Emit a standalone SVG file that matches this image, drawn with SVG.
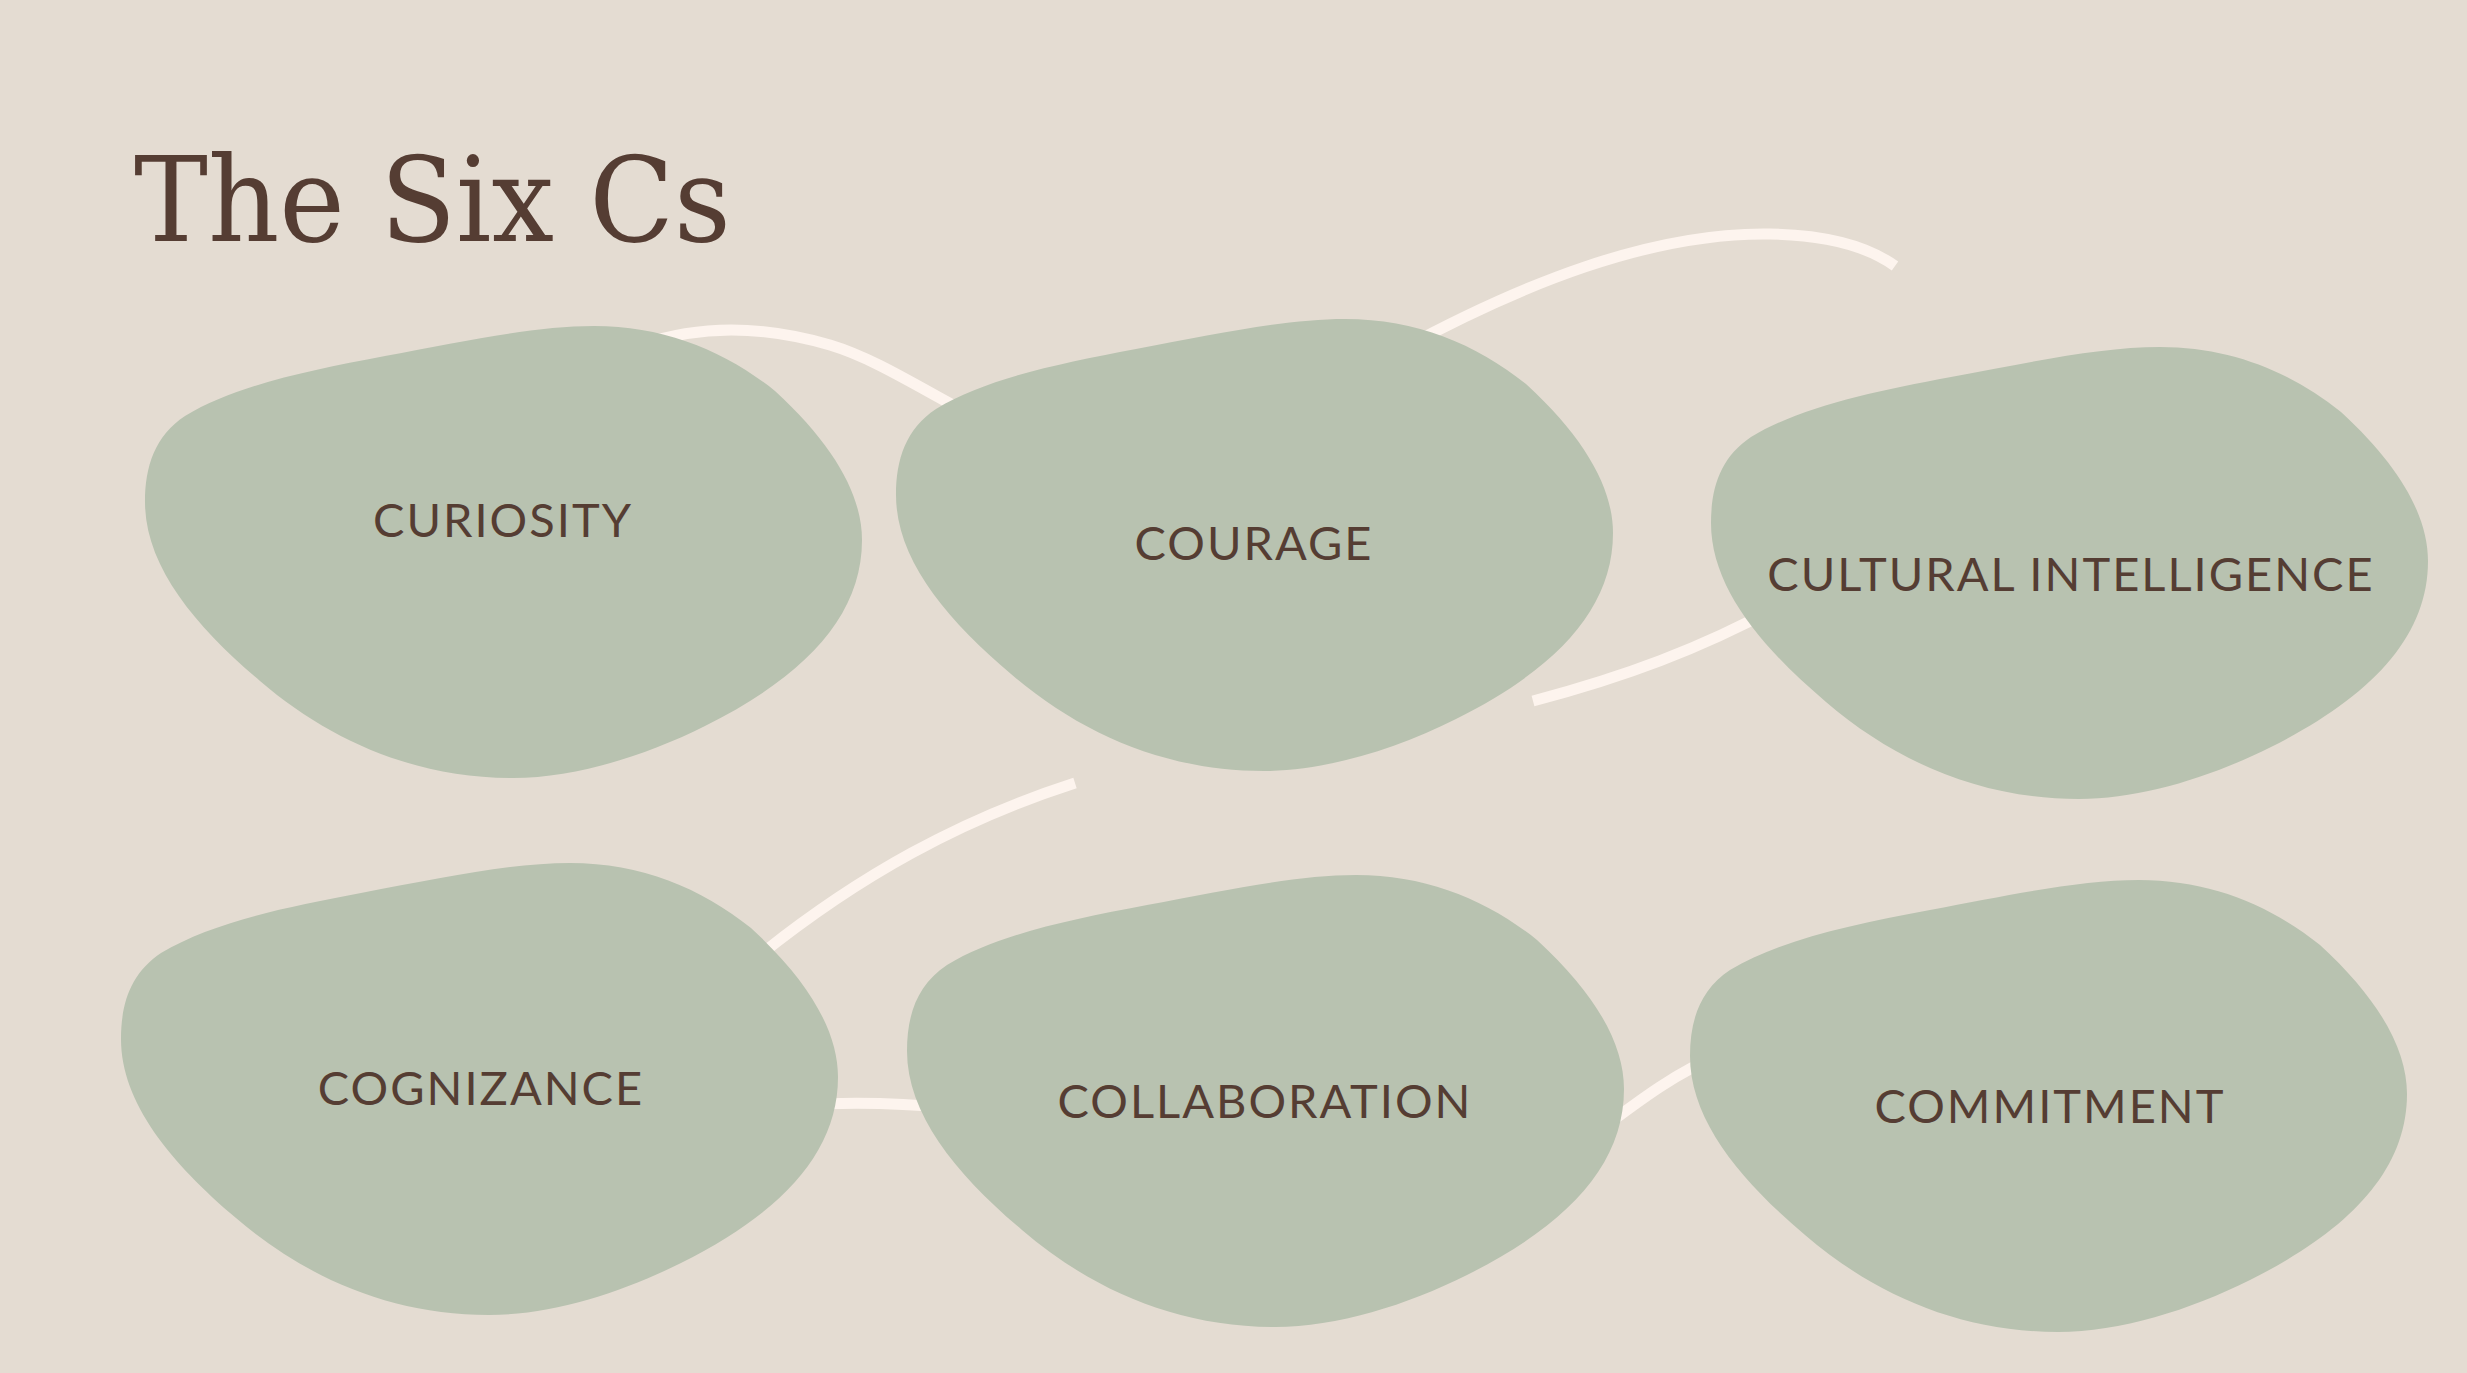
<svg xmlns="http://www.w3.org/2000/svg" width="2467" height="1373" viewBox="0 0 2467 1373">
<defs>
<style>
.bg{fill:#e4dcd2}
.blob{fill:#b8c2b0}
.lbl{font-family:Lato,"Open Sans","Liberation Sans",sans-serif;font-size:47px;letter-spacing:2px;fill:#553d33;text-anchor:middle}
.title{font-family:"DejaVu Serif","Liberation Serif",serif;font-size:118px;fill:#553d33}
.conn{fill:none;stroke:#fdf4ee;stroke-width:11}
</style>
<path id="blobShape" d="M449,0 C520,0 580,25 630,65 C690,120 717,170 717,214 C717,290 660,350 560,400 C500,430 430,452 368,452 C270,452 185,415 115,355 C50,300 0,240 0,176 C0,140 10,110 40,90 C90,60 160,45 240,30 C320,15 390,0 449,0 Z"/>
</defs>
<rect class="bg" x="0" y="0" width="2467" height="1373"/>
<text class="title" x="134" y="241" textLength="597" lengthAdjust="spacingAndGlyphs">The Six Cs</text>
<g id="connectors">
<path class="conn" d="M640,345 C700,325 760,325 830,345 C880,360 930,395 1000,430"/>
<path class="conn" d="M1400,350 C1520,285 1650,232 1770,234 C1830,235 1870,248 1895,266"/>
<path class="conn" d="M1533,701 C1620,678 1700,650 1790,600"/>
<path class="conn" d="M1075,783 C960,820 860,875 760,955"/>
<path class="conn" d="M800,1105 C850,1102 900,1103 950,1108"/>
<path class="conn" d="M1600,1130 C1640,1100 1680,1070 1720,1055"/>
</g>
<g id="curiosity">
<use href="#blobShape" class="blob" transform="translate(145,326)"/>
<text class="lbl" x="503" y="537">CURIOSITY</text>
</g>
<g id="courage">
<use href="#blobShape" class="blob" transform="translate(896,319)"/>
<text class="lbl" x="1254" y="560">COURAGE</text>
</g>
<g id="cultural-intelligence">
<use href="#blobShape" class="blob" transform="translate(1711,347)"/>
<text class="lbl" x="2071" y="591">CULTURAL INTELLIGENCE</text>
</g>
<g id="cognizance">
<use href="#blobShape" class="blob" transform="translate(121,863)"/>
<text class="lbl" x="481" y="1105">COGNIZANCE</text>
</g>
<g id="collaboration">
<use href="#blobShape" class="blob" transform="translate(907,875)"/>
<text class="lbl" x="1265" y="1118">COLLABORATION</text>
</g>
<g id="commitment">
<use href="#blobShape" class="blob" transform="translate(1690,880)"/>
<text class="lbl" x="2050" y="1123">COMMITMENT</text>
</g>
</svg>
